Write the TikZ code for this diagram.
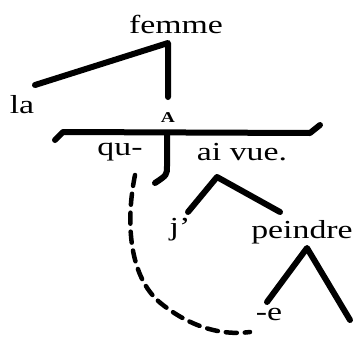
\documentclass[tikz,border=0pt]{standalone}
\usepackage{fontspec}
\setmainfont{Liberation Serif}
\newcommand\widetext[1]{\scalebox{1.3}[1]{#1}}
\begin{document}
\begin{tikzpicture}[x=1pt,y=-1pt,
  word/.style={font=\fontsize{26}{30}\selectfont, inner sep=0pt},
  small/.style={font=\fontsize{15}{17}\selectfont\bfseries, inner sep=0pt},
  branch/.style={line width=6pt, line cap=round, line join=round},
  trace/.style={line width=4.5pt, dash pattern=on 11pt off 8pt, line cap=round}]
\useasboundingbox (0,0) rectangle (358,340);
\node[word] (femme) at (176,24) {\widetext{femme}};
\node[word] (la) at (22,105) {\widetext{la}};
\node[small] (A) at (168,118) {\widetext{A}};
\node[word] (qu) at (120,152) {\widetext{qu-}};
\node[word] (aivue) at (242,152) {\widetext{ai vue.}};
\node[word] (j) at (180,230) {\widetext{j'}};
\node[word] (peindre) at (302,232) {\widetext{peindre}};
\node[word] (e) at (269,314) {\widetext{-e}};
% branch points
\coordinate (laEnd) at (35,85);
\coordinate (femTop) at (168,43);
\coordinate (femBot) at (168,97);
\coordinate (barL0) at (55,140);
\coordinate (barL) at (63,132);
\coordinate (barR) at (310,133);
\coordinate (barR0) at (320,125);
\coordinate (stemTop) at (167,133);
\coordinate (stemMid) at (167,166);
\coordinate (stemEnd) at (155,183);
\coordinate (avApex) at (217,177);
\coordinate (jEnd) at (188,212);
\coordinate (pEnd) at (280,212);
\coordinate (pApex) at (307,248);
\coordinate (eEnd) at (267,302);
\coordinate (rEnd) at (350,320);
\coordinate (trStart) at (135,175);
\coordinate (trMid) at (163,305);
\coordinate (trEnd) at (250,332);
\draw[branch] (laEnd) -- (femTop) -- (femBot);
\draw[branch] (barL0) -- (barL) -- (barR) -- (barR0);
\draw[branch] (stemTop) -- (stemMid) .. controls (167,175) .. (stemEnd);
\draw[branch] (jEnd) -- (avApex) -- (pEnd);
\draw[branch] (eEnd) -- (pApex) -- (rEnd);
\draw[trace] (trStart) .. controls (124,230) and (132,282) .. (trMid) .. controls (190,326) and (220,336) .. (trEnd);
\end{tikzpicture}
\end{document}
